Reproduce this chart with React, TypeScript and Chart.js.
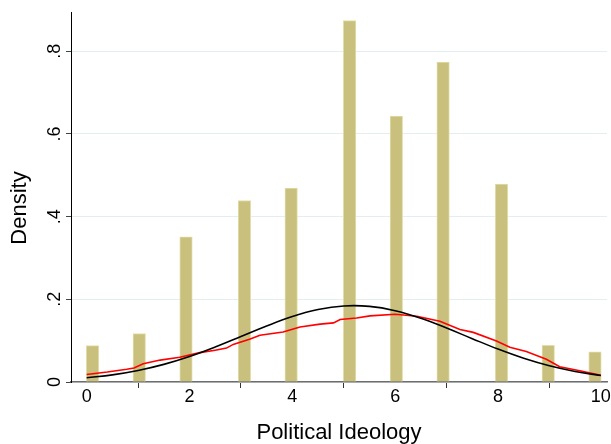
import React, { useEffect, useRef } from "react";
import { Chart, registerables } from "chart.js";

Chart.register(...registerables);

// ---- data ----
const categories = [0, 1, 2, 3, 4, 5, 6, 7, 8, 9, 10];
const densities = [0.088, 0.117, 0.351, 0.439, 0.469, 0.874, 0.643, 0.774, 0.479, 0.089, 0.073];
const nBins = 44;
const rangeMin = 0;
const rangeMax = 10;

const kdensX = [0, 0.4, 0.78, 0.92, 1.1, 1.43, 1.81, 2.2, 2.5, 2.72, 2.85, 3.18, 3.37, 3.82, 4.15, 4.54, 4.8, 4.93, 5.25, 5.51, 6.0, 6.42, 6.87, 7.26, 7.52, 7.97, 8.23, 8.55, 8.94, 9.2, 9.59, 10];
const kdensY = [0.018, 0.024, 0.031, 0.034, 0.044, 0.053, 0.06, 0.071, 0.077, 0.082, 0.091, 0.104, 0.113, 0.121, 0.133, 0.14, 0.143, 0.151, 0.155, 0.16, 0.164, 0.159, 0.147, 0.127, 0.12, 0.099, 0.084, 0.074, 0.055, 0.037, 0.027, 0.016];

const normalX = [0, 0.5, 1, 1.5, 2, 2.5, 3, 3.5, 4, 4.5, 5, 5.5, 6, 6.5, 7, 7.5, 8, 8.5, 9, 9.5, 10];
const normalY = [0.0102, 0.0173, 0.0279, 0.0426, 0.0617, 0.0846, 0.11, 0.1355, 0.1583, 0.1752, 0.1839, 0.1829, 0.1725, 0.1541, 0.1305, 0.1048, 0.0797, 0.0575, 0.0393, 0.0255, 0.0156];

const xTickValues = [0, 2, 4, 6, 8, 10];
const xTickLabels = ["0", "2", "4", "6", "8", "10"];
const yTickValues = [0, 0.2, 0.4, 0.6, 0.8];
const yTickLabels = ["0", ".2", ".4", ".6", ".8"];

const xTitle = "Political Ideology";
const yTitle = "Density";

const FONT = '"Liberation Sans", Arial, Helvetica, sans-serif';

const binWidth = (rangeMax - rangeMin) / nBins;
const binCenter = (v: number) => {
  const b = Math.min(Math.floor((v - rangeMin) / binWidth + 1e-9), nBins - 1);
  return rangeMin + (b + 0.5) * binWidth;
};

const textPlugin = {
  id: "stataText",
  afterDraw(chart: any) {
    const { ctx, chartArea } = chart;
    const xs = chart.scales.x;
    const ys = chart.scales.y;
    ctx.save();
    ctx.fillStyle = "#000";
    ctx.font = `18px ${FONT}`;
    ctx.textAlign = "center";
    ctx.textBaseline = "alphabetic";
    xTickValues.forEach((v, i) => {
      ctx.fillText(xTickLabels[i], xs.getPixelForValue(v), chartArea.bottom + 20);
    });
    yTickValues.forEach((v, i) => {
      ctx.save();
      ctx.translate(chartArea.left - 11, ys.getPixelForValue(v));
      ctx.rotate(-Math.PI / 2);
      ctx.fillText(yTickLabels[i], 0, 0);
      ctx.restore();
    });
    ctx.font = `22px ${FONT}`;
    ctx.fillText(xTitle, (chartArea.left + chartArea.right) / 2, chartArea.bottom + 57);
    ctx.save();
    ctx.translate(26, (chartArea.top + chartArea.bottom) / 2 + 11);
    ctx.rotate(-Math.PI / 2);
    ctx.fillText(yTitle, 0, 0);
    ctx.restore();
    ctx.restore();
  },
};

export default function App() {
  const ref = useRef<HTMLCanvasElement>(null);
  useEffect(() => {
    document.body.style.margin = "0";
    const canvas = ref.current;
    if (!canvas) return;
    const chart = new Chart(canvas, {
      type: "bar",
      data: {
        datasets: [
          {
            type: "line",
            label: "normal",
            data: normalX.map((x, i) => ({ x, y: normalY[i] })),
            borderColor: "#000000",
            borderWidth: 1.6,
            pointRadius: 0,
            tension: 0.4,
            fill: false,
            order: 1,
          } as any,
          {
            type: "line",
            label: "kdensity",
            data: kdensX.map((x, i) => ({ x, y: kdensY[i] })),
            borderColor: "#ff0000",
            borderWidth: 1.6,
            pointRadius: 0,
            tension: 0,
            fill: false,
            order: 2,
          } as any,
          {
            type: "bar",
            label: "hist",
            data: categories.map((c, i) => ({ x: binCenter(c), y: densities[i] })),
            backgroundColor: "rgb(200,192,124)",
            borderColor: "rgb(226,221,170)",
            borderWidth: 1,
            borderSkipped: "bottom",
            barThickness: 12.5,
            order: 3,
          } as any,
        ],
      },
      options: {
        responsive: false,
        animation: false,
        events: [],
        layout: { padding: { top: 12, right: 4, left: 0, bottom: 0 } },
        plugins: { legend: { display: false }, tooltip: { enabled: false } },
        scales: {
          x: {
            type: "linear",
            min: -0.305,
            max: 10.12,
            offset: false,
            afterBuildTicks: (s: any) => {
              s.ticks = xTickValues.map((v) => ({ value: v }));
            },
            afterFit: (s: any) => {
              s.height = 62;
            },
            ticks: { display: false },
            grid: {
              display: true,
              drawOnChartArea: false,
              drawTicks: true,
              tickLength: 6,
              tickColor: "#333",
              tickWidth: 1,
            },
            border: { display: true, color: "#6e6e6e", width: 1.5 },
          },
          y: {
            type: "linear",
            min: 0,
            max: 0.895,
            afterBuildTicks: (s: any) => {
              s.ticks = yTickValues.map((v) => ({ value: v }));
            },
            afterFit: (s: any) => {
              s.width = 71;
            },
            ticks: { display: false },
            grid: {
              display: true,
              color: "#e4edf0",
              lineWidth: 1,
              drawTicks: true,
              tickLength: 5,
              tickColor: "#444",
              tickWidth: 1,
            },
            border: { display: true, color: "#000", width: 1 },
          },
        },
      },
      plugins: [textPlugin],
    });
    return () => chart.destroy();
  }, []);
  return (
    <div style={{ width: 611, height: 444, background: "#fff" }}>
      <canvas ref={ref} width={611} height={444} style={{ display: "block" }} />
    </div>
  );
}
